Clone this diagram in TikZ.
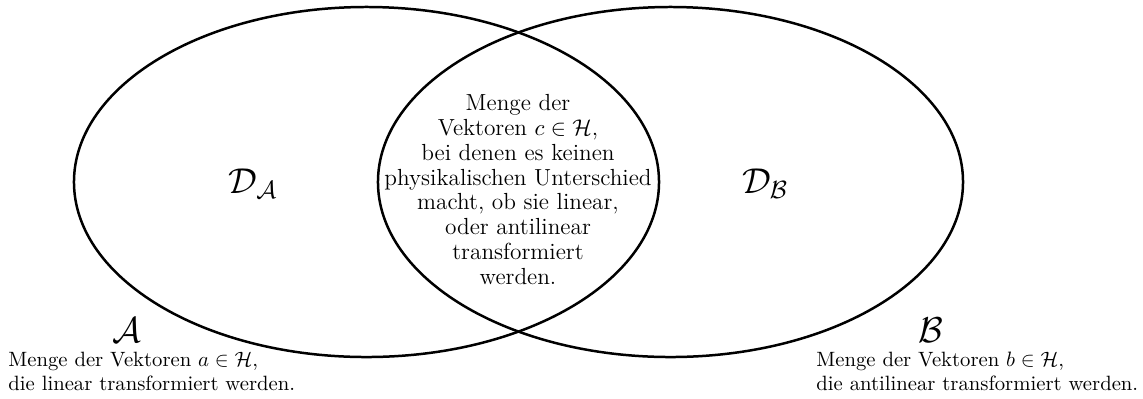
\documentclass[tikz,border=0pt]{standalone}
\usetikzlibrary{shapes.geometric}
\begin{document}
\begin{tikzpicture}[x=0.4808pt,y=-0.4808pt,
  setshape/.style={draw, ellipse, line width=1.2pt, inner sep=0pt, outer sep=0pt,
    minimum width=281.3pt, minimum height=168.3pt},
  biglabel/.style={inner sep=0pt, font=\fontsize{16.5}{19}\selectfont},
  desc/.style={inner sep=0pt, align=left, font=\fontsize{9.95}{11.2}\selectfont},
  lenstext/.style={inner sep=0pt, align=center, font=\fontsize{11.2}{11.9}\selectfont}]
\useasboundingbox (0,0) rectangle (1143,398);
\node[setshape] (setA) at (366.5,182) {};
\node[setshape] (setB) at (670.5,182) {};
\node[biglabel] (DA) at (253,184) {$\mathcal{D}_{\mathcal{A}}$};
\node[biglabel] (DB) at (765,184) {$\mathcal{D}_{\mathcal{B}}$};
\node[lenstext] (C) at (518,189.5) {Menge der\\ Vektoren $c\in\mathcal{H}$,\\ bei denen es keinen\\ physikalischen Unterschied\\ macht, ob sie linear,\\ oder antilinear\\ transformiert\\ werden.};
\node[biglabel] (LA) at (127,330) {$\mathcal{A}$};
\node[biglabel] (LB) at (931,330) {$\mathcal{B}$};
\node[desc, anchor=north west] (TA) at (8,352) {Menge der Vektoren $a\in\mathcal{H}$,\\ die linear transformiert werden.};
\node[desc, anchor=north west] (TB) at (816,352) {Menge der Vektoren $b\in\mathcal{H}$,\\ die antilinear transformiert werden.};
\end{tikzpicture}
\end{document}
